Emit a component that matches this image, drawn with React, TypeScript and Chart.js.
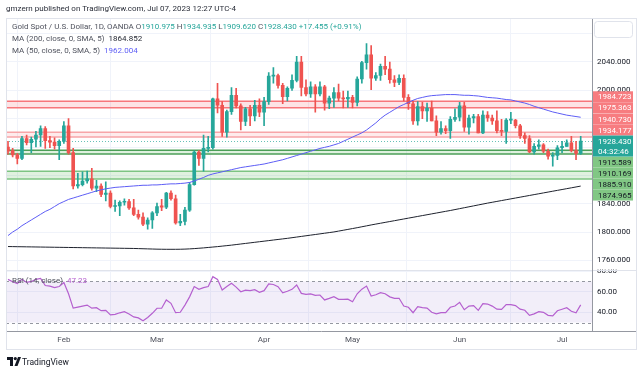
import React, { useEffect, useRef } from 'react';
import { Chart, registerables } from 'chart.js';
Chart.register(...registerables);

// ---------- DATA ----------
const OPEN = [1920,1915,1909,1904,1932,1926,1931,1937,1946,1929,1927,1922,1928,1950,1912,1865,1867,1872,1875,1862,1865,1853,1855,1836,1837,1842,1843,1834,1825,1821,1811,1817,1827,1837,1835,1855,1847,1813,1815,1831,1867,1913,1904,1918,1919,1988,1979,1941,1970,1993,1978,1956,1974,1964,1979,1969,1984,2020,2021,2007,1991,2003,2014,2040,2004,1995,2005,1995,2005,1982,1989,1997,1989,1988,1990,1983,2016,2039,2050,2017,2021,2034,2030,2015,2011,2017,1990,1981,1957,1977,1971,1975,1957,1941,1946,1943,1959,1962,1978,1948,1961,1963,1940,1965,1961,1957,1943,1942,1958,1958,1950,1936,1932,1913,1921,1923,1914,1907,1908,1919,1921,1926,1915,1910.975];
const HIGH = [1928,1918,1911,1935,1937,1934,1942,1950,1949,1935,1933,1930,1956,1960,1918,1883,1885,1886,1890,1873,1868,1871,1858,1845,1844,1847,1846,1846,1831,1827,1820,1829,1841,1846,1856,1858,1852,1825,1835,1870,1915,1915,1937,1935,1989,2010,1984,1972,2004,2003,1981,1976,1979,1986,1988,1990,2025,2032,2023,2010,2005,2022,2048,2048,2015,2012,2008,2012,2007,1992,2004,2009,1999,1999,1993,2019,2041,2066,2063,2025,2037,2048,2040,2021,2022,2022,1994,1985,1984,1983,1982,1985,1964,1956,1950,1963,1974,1983,1983,1965,1966,1966,1971,1970,1965,1971,1959,1960,1969,1959,1952,1940,1936,1925,1930,1925,1917,1912,1922,1928,1930,1935,1928,1934.935];
const LOW = [1910,1906,1896,1902,1923,1912,1920,1921,1918,1919,1917,1902,1925,1910,1861,1862,1865,1869,1859,1857,1850,1844,1834,1829,1823,1838,1832,1823,1818,1809,1804,1805,1823,1830,1833,1845,1811,1809,1810,1829,1866,1894,1886,1913,1917,1968,1935,1934,1966,1975,1944,1950,1950,1957,1963,1950,1980,2010,2003,1981,1985,2000,2012,1992,1992,1990,1969,1992,1972,1974,1976,1985,1975,1976,1975,1978,2010,2030,2001,2014,2014,2022,2010,2005,2008,1985,1973,1952,1951,1960,1956,1957,1936,1938,1939,1932,1956,1957,1942,1938,1954,1940,1939,1956,1952,1940,1936,1925,1953,1947,1932,1925,1912,1910,1917,1912,1903,1893,1902,1912,1921,1913,1902,1909.62];
const CLOSE = [1914,1909,1904,1932,1926,1931,1937,1946,1929,1927,1922,1928,1950,1912,1865,1867,1872,1875,1862,1865,1853,1855,1836,1837,1842,1843,1834,1825,1821,1811,1817,1827,1836,1835,1855,1847,1813,1815,1831,1867,1913,1904,1918,1919,1988,1979,1941,1970,1993,1978,1956,1974,1964,1979,1969,1984,2020,2021,2007,1991,2003,2014,2040,2004,1995,2005,1995,2005,1982,1989,1997,1989,1988,1990,1983,2016,2039,2050,2017,2021,2034,2030,2015,2011,2017,1990,1981,1957,1977,1971,1975,1957,1941,1946,1943,1959,1962,1978,1948,1961,1963,1940,1965,1961,1957,1943,1942,1958,1958,1950,1936,1932,1913,1921,1923,1914,1907,1908,1919,1921,1926,1915,1911,1928.43];
const MA50 = [1795,1800,1804,1809,1813,1817,1821,1825,1829,1832,1836,1840,1843,1846,1848,1850,1852,1854,1856,1858,1859.5,1861,1862,1863,1863.5,1864,1864.5,1865,1865.5,1866,1866,1866.5,1866.5,1867,1867.5,1868,1868,1868.5,1869,1870,1872,1874.5,1877,1880,1882,1883.5,1885,1886.5,1888,1889.5,1891,1892,1893,1894,1895,1896,1897.5,1899,1900.5,1902,1904,1906,1908,1910,1912,1914,1916,1918,1919.5,1921,1923,1925,1928,1931,1934,1937,1940,1944,1949,1954,1960,1965,1969,1973,1977,1980,1983,1986,1988.5,1990,1991.5,1992.5,1993,1993.5,1994,1994,1994,1993.5,1993,1993,1992.5,1992,1991,1990,1989.5,1989,1988,1987,1986.5,1985,1983.5,1982,1980,1977.5,1975.5,1973.5,1971.5,1969.5,1968,1966.5,1965,1964,1963,1962];
const MA200 = [1779.5,1779.4,1779.3,1779.2,1779.1,1779,1778.9,1778.8,1778.7,1778.6,1778.5,1778.4,1778.3,1778.2,1778.1,1778,1777.9,1777.8,1777.7,1777.6,1777.5,1777.4,1777.3,1777.2,1777.1,1777,1776.9,1776.8,1776.6,1776.4,1776.2,1776,1775.8,1775.7,1775.6,1775.6,1775.6,1775.7,1775.9,1776.2,1776.6,1777.1,1777.6,1778.2,1778.8,1779.4,1780.1,1780.8,1781.5,1782.3,1783.1,1783.9,1784.7,1785.5,1786.3,1787.1,1787.9,1788.7,1789.5,1790.3,1791.1,1792,1792.9,1793.8,1794.7,1795.6,1796.5,1797.4,1798.3,1799.2,1800.1,1801.3,1802.5,1803.7,1804.9,1806.1,1807.4,1808.7,1810,1811.2,1812.4,1813.6,1814.8,1816,1817.2,1818.4,1819.6,1820.8,1822,1823.2,1824.4,1825.6,1826.8,1828,1829.2,1830.4,1831.7,1833,1834.3,1835.6,1836.9,1838.2,1839.5,1840.8,1842,1843.2,1844.4,1845.6,1846.8,1848,1849.2,1850.4,1851.6,1852.8,1854,1855.2,1856.4,1857.6,1858.8,1860,1861.2,1862.4,1863.6,1864.85];
const RSI = [72,69.7,68,72,69,70,72,73,66,65.5,64,65,69,58,44,45,46,47,44,44.5,41.6,41.8,37.4,38,39.5,40.6,38.4,35.5,34.5,31.8,35,39,43.9,43.9,52,48.7,39.6,40,47,55,65,62.3,64,65,74.6,72,61.6,65,68.2,64.5,60,61.6,61,62,59.5,61,67.5,67,64.9,59,60.5,62.3,66.5,58.4,57.5,57.8,56.5,56.8,52,53.5,55.2,52.6,52.6,52.8,50.3,58,62.5,65.5,55.8,57,59,58,55,53.6,53.6,46.1,44.9,39.6,45.4,44.5,44,40,38.4,39.6,39.6,44.9,46.1,49.7,42.5,46,46.4,41.8,48.5,48,46,43,42.9,47.5,47.5,46.5,43,42,37,38.5,40.6,40,37,36.5,41.5,43,44.5,41,39.5,47.23];
const MONTH_IDX = [12, 32, 55, 74, 97, 119];
const MONTH_LABELS = ['Feb', 'Mar', 'Apr', 'May', 'Jun', 'Jul'];
const PRICE_TICKS = [1760, 1800, 1840, 1880, 1920, 1960, 2000, 2040, 2080];
const RSI_TICKS = [40, 60, 80];
const RESIST_LEVELS = [1984.723, 1975.363, 1940.730, 1934.177];
const SUPPORT_LEVELS = [1915.589, 1910.169, 1885.910, 1874.965];
const LAST_PRICE = 1928.430;
const COUNTDOWN = '04:32:46';
const RSI_UPPER = 70;
const RSI_LOWER = 30;

// ---------- STYLE ----------
const UP = '#26a69a';
const DOWN = '#ef5350';
const FONT = 'Roboto, "Liberation Sans", sans-serif';

const idx = OPEN.map((_, i) => i);
const candleColor = idx.map((i) => (CLOSE[i] >= OPEN[i] ? UP : DOWN));

const bandStyles = [
  { a: RESIST_LEVELS[0], b: RESIST_LEVELS[1], line: '#f7767b', fill: 'rgba(242,54,69,0.14)' },
  { a: RESIST_LEVELS[2], b: RESIST_LEVELS[3], line: '#f7a5a8', fill: 'rgba(242,54,69,0.10)' },
  { a: SUPPORT_LEVELS[0], b: SUPPORT_LEVELS[1], line: '#4c9f58', fill: 'rgba(76,175,80,0.18)' },
  { a: SUPPORT_LEVELS[2], b: SUPPORT_LEVELS[3], line: '#7cc482', fill: 'rgba(76,175,80,0.18)' },
];

const decor = {
  id: 'tvDecor',
  beforeDatasetsDraw(chart: any) {
    const { ctx, chartArea } = chart;
    const y = chart.scales.y;
    const yr = chart.scales.yr;
    const L = chartArea.left, R = chartArea.right;
    ctx.save();
    const t70 = yr.getPixelForValue(RSI_UPPER), t30 = yr.getPixelForValue(RSI_LOWER);
    ctx.fillStyle = 'rgba(126,87,194,0.1)';
    ctx.fillRect(L, t70, R - L, t30 - t70);
    ctx.strokeStyle = '#9598a1';
    ctx.lineWidth = 1;
    ctx.setLineDash([3, 3]);
    [t70, t30].forEach((p) => { ctx.beginPath(); ctx.moveTo(L, Math.round(p) + 0.5); ctx.lineTo(R, Math.round(p) + 0.5); ctx.stroke(); });
    ctx.setLineDash([]);
    ctx.save();
    ctx.beginPath();
    ctx.rect(L, y.top, R - L, y.bottom - y.top);
    ctx.clip();
    bandStyles.forEach((b) => {
      const pa = y.getPixelForValue(b.a), pb = y.getPixelForValue(b.b);
      ctx.fillStyle = b.fill;
      ctx.fillRect(L, pa, R - L, pb - pa);
      ctx.strokeStyle = b.line;
      ctx.lineWidth = 1.5;
      [pa, pb].forEach((p) => { ctx.beginPath(); ctx.moveTo(L, p); ctx.lineTo(R, p); ctx.stroke(); });
    });
    const lp = Math.round(y.getPixelForValue(LAST_PRICE)) + 0.5;
    ctx.strokeStyle = UP;
    ctx.globalAlpha = 0.7;
    ctx.setLineDash([1, 2]);
    ctx.lineWidth = 1;
    ctx.beginPath(); ctx.moveTo(L, lp); ctx.lineTo(R, lp); ctx.stroke();
    ctx.restore();
    ctx.restore();
  },
  afterDraw(chart: any) {
    const { ctx, chartArea } = chart;
    const y = chart.scales.y;
    const yr = chart.scales.yr;
    const x0 = chartArea.right;
    ctx.save();
    // clip RSI axis labels at pane top like TradingView
    ctx.fillStyle = '#ffffff';
    ctx.fillRect(x0 + 1, yr.top - 6, 637 - x0 - 1, 6);
    ctx.strokeStyle = '#e0e3eb';
    ctx.lineWidth = 1;
    const sep = Math.round(yr.top) + 0.5;
    ctx.beginPath(); ctx.moveTo(chartArea.left, sep); ctx.lineTo(637, sep); ctx.stroke();
    ctx.strokeStyle = '#9598a1';
    ctx.beginPath(); ctx.moveTo(chartArea.left, Math.round(chartArea.bottom) + 0.5); ctx.lineTo(637, Math.round(chartArea.bottom) + 0.5); ctx.stroke();
    ctx.beginPath(); ctx.moveTo(Math.round(x0) + 0.5, chartArea.top); ctx.lineTo(Math.round(x0) + 0.5, chartArea.bottom); ctx.stroke();
    ctx.strokeStyle = '#e0e3eb';
    ctx.strokeRect(chartArea.left + 0.5, chartArea.top + 0.5, 637 - chartArea.left - 1, 349 - chartArea.top);
    ctx.fillStyle = '#fff';
    ctx.beginPath();
    (ctx as any).roundRect(594.5, 21.5, 38, 16, 3);
    ctx.fill();
    ctx.stroke();
    const bx = x0 + 1, bw = 40, h = 11;
    ctx.font = `8px ${FONT}`;
    ctx.textBaseline = 'middle';
    const c0 = y.getPixelForValue(LAST_PRICE);
    const top0 = c0 - 5.5, tealH = 21;
    let lim = top0;
    [...RESIST_LEVELS].sort((a, b) => a - b).forEach((v) => {
      const c = Math.min(y.getPixelForValue(v), lim - h / 2);
      ctx.fillStyle = '#f77c80';
      ctx.fillRect(bx, c - h / 2, bw, h);
      ctx.fillStyle = '#ffffff';
      ctx.fillText(v.toFixed(3), bx + 5, c + 0.5);
      lim = c - h / 2;
    });
    lim = top0 + tealH;
    [...SUPPORT_LEVELS].sort((a, b) => b - a).forEach((v) => {
      const c = Math.max(y.getPixelForValue(v), lim + h / 2);
      ctx.fillStyle = '#81c784';
      ctx.fillRect(bx, c - h / 2, bw, h);
      ctx.fillStyle = '#131722';
      ctx.fillText(v.toFixed(3), bx + 5, c + 0.5);
      lim = c + h / 2;
    });
    ctx.fillStyle = UP;
    ctx.fillRect(bx, top0, bw, tealH);
    ctx.fillStyle = '#ffffff';
    ctx.fillText(LAST_PRICE.toFixed(3), bx + 5, c0 + 0.5);
    ctx.fillText(COUNTDOWN, bx + 5, c0 + 10.5);
    ctx.restore();
  },
};

const fixW = (s: any) => { s.width = 45; };

export default function App() {
  const ref = useRef<HTMLCanvasElement>(null);
  useEffect(() => {
    const chart = new Chart(ref.current as HTMLCanvasElement, {
      type: 'bar',
      data: {
        datasets: [
          {
            type: 'line', label: 'MA50', yAxisID: 'y',
            data: idx.map((i) => ({ x: i, y: MA50[i] })),
            borderColor: '#5d5df5', borderWidth: 1, pointRadius: 0, tension: 0,
          } as any,
          {
            type: 'line', label: 'MA200', yAxisID: 'y',
            data: idx.map((i) => ({ x: i, y: MA200[i] })),
            borderColor: '#1e222d', borderWidth: 1, pointRadius: 0, tension: 0,
          } as any,
          {
            type: 'line', label: 'RSI', yAxisID: 'yr',
            data: idx.map((i) => ({ x: i, y: RSI[i] })),
            borderColor: '#b560cf', borderWidth: 1.2, pointRadius: 0, tension: 0,
          } as any,
          {
            label: 'body', yAxisID: 'y',
            data: idx.map((i) => ({ x: i, y: [OPEN[i], CLOSE[i]] })),
            backgroundColor: candleColor, barThickness: 3, minBarLength: 1, grouped: false,
          } as any,
          {
            label: 'wick', yAxisID: 'y',
            data: idx.map((i) => ({ x: i, y: [LOW[i], HIGH[i]] })),
            backgroundColor: candleColor, barThickness: 1, grouped: false,
          } as any,
        ],
      },
      options: {
        animation: false,
        responsive: false,
        devicePixelRatio: 1,
        layout: { padding: { left: 6, top: 18, right: 6, bottom: 24 } },
        plugins: { legend: { display: false }, tooltip: { enabled: false } },
        scales: {
          x: {
            type: 'linear', min: -0.43, max: 125.43, offset: false,
            afterBuildTicks: (s: any) => { s.ticks = MONTH_IDX.map((v) => ({ value: v })); },
            afterFit: (s: any) => { s.height = 18; },
            ticks: {
              autoSkip: false, maxRotation: 0, padding: 4,
              font: { family: FONT, size: 8 }, color: '#50535e',
              callback: (v: any) => MONTH_LABELS[MONTH_IDX.indexOf(v)] ?? '',
            },
            grid: { color: '#f0f3fa', drawTicks: false },
            border: { display: false },
          },
          y: {
            type: 'linear', position: 'right', stack: 'pane', stackWeight: 251.5,
            min: 1747.1, max: 2102.1, afterFit: fixW,
            afterBuildTicks: (s: any) => { s.ticks = PRICE_TICKS.map((v) => ({ value: v })); },
            ticks: {
              padding: 5, font: { family: FONT, size: 8 }, color: '#131722',
              callback: (v: any) => Number(v).toFixed(3),
            },
            grid: { color: '#f0f3fa', drawTicks: false },
            border: { display: false },
          },
          yr: {
            type: 'linear', position: 'right', stack: 'pane', stackWeight: 61.5,
            min: 21.8, max: 81.6, afterFit: fixW,
            afterBuildTicks: (s: any) => { s.ticks = RSI_TICKS.map((v) => ({ value: v })); },
            ticks: {
              padding: 5, font: { family: FONT, size: 8 }, color: '#131722',
              callback: (v: any) => Number(v).toFixed(2),
            },
            grid: { color: '#f0f3fa', drawTicks: false },
            border: { display: false },
          },
        },
      } as any,
      plugins: [decor],
    });
    return () => chart.destroy();
  }, []);

  const txt = (extra: any) => ({ position: 'absolute', whiteSpace: 'nowrap', fontFamily: FONT, fontSize: 8, color: '#131722', lineHeight: '10px', ...extra });
  return (
    <div style={{ position: 'absolute', left: 0, top: 0, width: 643, height: 373, background: '#fff', overflow: 'hidden' }}>
      <canvas ref={ref} width={643} height={373} style={{ position: 'absolute', left: 0, top: 0 }} />
      <div style={txt({ left: 6, top: 4, color: '#2a2e39' })}>gmzern published on TradingView.com, Jul 07, 2023 12:27 UTC-4</div>
      <div style={txt({ left: 12, top: 22, color: '#50535e' })}>
        Gold Spot / U.S. Dollar, 1D, OANDA{'  '}
        <span>O</span><span style={{ color: UP }}>1910.975 </span>
        <span>H</span><span style={{ color: UP }}>1934.935 </span>
        <span>L</span><span style={{ color: UP }}>1909.620 </span>
        <span>C</span><span style={{ color: UP }}>1928.430 +17.455 (+0.91%)</span>
      </div>
      <div style={txt({ left: 12, top: 34, color: '#50535e' })}>MA (200, close, 0, SMA, 5)&nbsp; <span style={{ color: '#1e222d' }}>1864.852</span></div>
      <div style={txt({ left: 12, top: 46, color: '#50535e' })}>MA (50, close, 0, SMA, 5)&nbsp; <span style={{ color: '#5d5df5' }}>1962.004</span></div>
      <div style={txt({ left: 12, top: 276, color: '#50535e' })}>RSI (14, close)&nbsp; <span style={{ color: '#b560cf' }}>47.23</span></div>
      <svg width="14" height="10" viewBox="0 0 14 10" style={{ position: 'absolute', left: 7, top: 357 }}>
        <path d="M0 0 H6 V9 H3 V3 H0 Z" fill="#131722" />
        <circle cx="8.3" cy="1.6" r="1.6" fill="#131722" />
        <path d="M11 0 H14 L10.5 9 H7.5 Z" fill="#131722" />
      </svg>
      <div style={txt({ left: 22, top: 356, fontSize: 8.5, lineHeight: '12px', color: '#131722' })}>TradingView</div>
    </div>
  );
}
